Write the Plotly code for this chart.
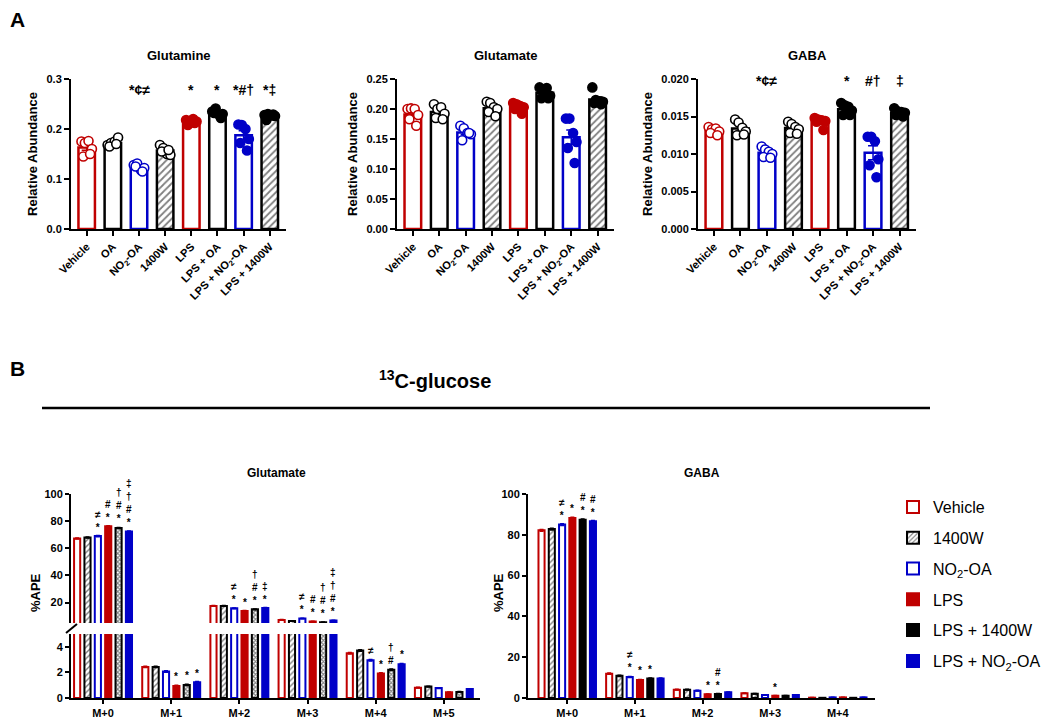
import numpy as np
import plotly.graph_objects as go

W, H = 1059, 718
# the page body adds an 8 px margin, so reference pixels are shifted by this much
OX, OY = 8, 8
FONT = "Liberation Sans, Arial, sans-serif"
RED = "#C00000"
BLUE = "#0000C8"
BLACK = "#000000"

# ---------------- panel A data (relative abundance, n = 6 per group) ----------------
CATS_A = ["Vehicle", "OA", "NO<sub>2</sub>-OA", "1400W", "LPS", "LPS + OA",
          "LPS + NO<sub>2</sub>-OA", "LPS + 1400W"]

glutamine_pts = [
    [0.175, 0.172, 0.176, 0.160, 0.145, 0.150],
    [0.168, 0.172, 0.175, 0.183, 0.165, 0.170],
    [0.128, 0.131, 0.118, 0.122, 0.125, 0.115],
    [0.168, 0.162, 0.150, 0.148, 0.155, 0.158],
    [0.218, 0.212, 0.220, 0.215, 0.208, 0.212],
    [0.235, 0.241, 0.228, 0.230, 0.232, 0.222],
    [0.209, 0.208, 0.200, 0.180, 0.172, 0.157],
    [0.228, 0.230, 0.227, 0.226, 0.218, 0.229],
]
glutamate_pts = [
    [0.200, 0.201, 0.200, 0.190, 0.183, 0.172],
    [0.208, 0.200, 0.203, 0.192, 0.185, 0.183],
    [0.172, 0.168, 0.160, 0.158, 0.148, 0.160],
    [0.212, 0.210, 0.203, 0.200, 0.195, 0.188],
    [0.210, 0.208, 0.205, 0.203, 0.200, 0.192],
    [0.236, 0.233, 0.235, 0.222, 0.218, 0.218],
    [0.184, 0.184, 0.160, 0.145, 0.135, 0.110],
    [0.236, 0.215, 0.213, 0.212, 0.210, 0.208],
]
gaba_pts = [
    [0.0136, 0.0133, 0.0134, 0.0130, 0.0128, 0.0125],
    [0.0146, 0.0142, 0.0135, 0.0130, 0.0125, 0.0126],
    [0.0110, 0.0106, 0.0103, 0.0100, 0.0096, 0.0095],
    [0.0143, 0.0140, 0.0136, 0.0133, 0.0128, 0.0127],
    [0.0148, 0.0146, 0.0145, 0.0144, 0.0143, 0.0132],
    [0.0168, 0.0165, 0.0163, 0.0158, 0.0152, 0.0152],
    [0.0123, 0.0123, 0.0117, 0.0093, 0.0085, 0.0069],
    [0.0161, 0.0157, 0.0156, 0.0155, 0.0152, 0.0150],
]
glutamine_marks = ["", "", "*¢≠", "", "*", "*", "*#†", "*‡"]
glutamate_marks = ["", "", "*¢≠", "", "", "*", "#†", "‡"]
gaba_marks = ["", "", "*¢≠", "", "", "*", "#†", "‡"]

# ---------------- panel B data (%APE from 13C-glucose) ----------------
ISO_GLU = ["M+0", "M+1", "M+2", "M+3", "M+4", "M+5"]
ISO_GABA = ["M+0", "M+1", "M+2", "M+3", "M+4"]
SERIES_B = ["Vehicle", "1400W", "NO<sub>2</sub>-OA", "LPS", "LPS + 1400W",
            "LPS + NO<sub>2</sub>-OA"]

glu_vehicle = [67.2, 2.43, 17.6, 7.3, 3.50, 0.81]
glu_1400w = [68.0, 2.43, 17.6, 6.5, 3.71, 0.89]
glu_no2oa = [69.0, 2.07, 15.8, 8.3, 2.95, 0.78]
glu_lps = [76.3, 0.94, 13.9, 6.1, 1.91, 0.44]
glu_lps_1400w = [75.0, 1.02, 15.1, 5.6, 2.20, 0.47]
glu_lps_no2oa = [72.4, 1.23, 16.1, 6.8, 2.64, 0.70]
glu_sem = [0.4, 0.05, 0.3, 0.2, 0.06, 0.03]

gaba_vehicle = [82.2, 11.9, 4.1, 2.3, 0.15]
gaba_1400w = [82.8, 10.9, 4.1, 2.1, 0.10]
gaba_no2oa = [85.0, 10.3, 3.6, 1.5, 0.30]
gaba_lps = [88.2, 8.8, 1.8, 1.1, 0.30]
gaba_lps_1400w = [87.4, 9.5, 2.0, 1.1, 0.10]
gaba_lps_no2oa = [86.6, 9.5, 2.8, 1.5, 0.30]
gaba_sem = [0.4, 0.3, 0.15, 0.1, 0.05]

GLU_B = [glu_vehicle, glu_1400w, glu_no2oa, glu_lps, glu_lps_1400w, glu_lps_no2oa]
GABA_B = [gaba_vehicle, gaba_1400w, gaba_no2oa, gaba_lps, gaba_lps_1400w, gaba_lps_no2oa]

# (isotopologue, series, stacked symbols)
GLU_MARKS = [
    (0, 2, "≠<br>*"), (0, 3, "#<br>*"), (0, 4, "†<br>#<br>*"), (0, 5, "‡<br>†<br>#<br>*"),
    (1, 3, "*"), (1, 4, "*"), (1, 5, "*"),
    (2, 2, "≠<br>*"), (2, 3, "*"), (2, 4, "†<br>#<br>*"), (2, 5, "‡<br>*"),
    (3, 2, "≠<br>*"), (3, 3, "#<br>*"), (3, 4, "†<br>#<br>*"), (3, 5, "‡<br>†<br>#<br>*"),
    (4, 2, "≠"), (4, 3, "*"), (4, 4, "†<br>#"), (4, 5, "*"),
]
GABA_MARKS = [
    (0, 2, "≠<br>*"), (0, 3, "*"), (0, 4, "#<br>*"), (0, 5, "#<br>*"),
    (1, 2, "≠<br>*"), (1, 3, "*"), (1, 4, "*"),
    (2, 3, "*"), (2, 4, "#<br>*"),
    (3, 3, "*"),
]

# ---------------- styles ----------------
A_LINE = [RED, BLACK, BLUE, BLACK, RED, BLACK, BLUE, BLACK]
A_HATCH = ["", "", "", "/", "", "", "", "/"]
A_FILLED = [False, False, False, False, True, True, True, True]
JITTER = np.array([-0.2, -0.07, 0.07, 0.2, -0.13, 0.13])

B_LINE = [RED, BLACK, BLUE, RED, BLACK, BLUE]
B_FILL = ["white", "white", "white", RED, BLACK, BLUE]
B_HATCH = ["", "/", "", "", "", ""]
B_STEP = 0.152
B_WIDTH = 0.09


def px(x):
    return (x - OX) / W


def py(y):
    return 1 - (y - OY) / H


def xdom(a, b):
    return [px(a), px(b)]


def ydom(top, bottom):
    return [py(bottom), py(top)]


def bold(size):
    return dict(family=FONT, size=size, color="black", weight="bold")


axis_common = dict(showline=True, linecolor="black", linewidth=2, ticks="outside",
                   ticklen=5, tickwidth=2, tickcolor="black", showgrid=False,
                   zeroline=False, tickfont=bold(11), automargin=False)

fig = go.Figure()
annotations = []
layout = {}

# ---------------- panel A ----------------
panels_a = [
    ("Glutamine", glutamine_pts, glutamine_marks, (71, 286), [0, 0.3], 0.1, ".1f", 0.279),
    ("Glutamate", glutamate_pts, glutamate_marks, (397, 614), [0, 0.25], 0.05, ".2f", 0.256),
    ("GABA", gaba_pts, gaba_marks, (698, 916), [0, 0.02], 0.005, ".3f", 0.0198),
]
for k, (title, pts, marks, (x0, x1), yr, dt, fmt, ystar) in enumerate(panels_a):
    xa = "x" if k == 0 else f"x{k + 1}"
    ya = "y" if k == 0 else f"y{k + 1}"
    for i in range(len(CATS_A)):
        vals = np.array(pts[i])
        mean = vals.mean()
        sem = vals.std(ddof=1) / np.sqrt(len(vals))
        fig.add_trace(go.Bar(
            x=[i], y=[mean], width=0.63, xaxis=xa, yaxis=ya, showlegend=False,
            marker=dict(color="white", line=dict(color=A_LINE[i], width=2.5),
                        pattern=dict(shape=A_HATCH[i], fgcolor="black", bgcolor="white",
                                     size=5, solidity=0.35)),
            error_y=dict(type="data", array=[sem], color=A_LINE[i], thickness=1.5, width=5),
        ))
        fig.add_trace(go.Scatter(
            x=i + JITTER, y=vals, mode="markers", xaxis=xa, yaxis=ya, showlegend=False,
            marker=dict(symbol="circle", size=9,
                        color=A_LINE[i] if A_FILLED[i] else "white",
                        line=dict(color=A_LINE[i], width=1.6)),
        ))
        if marks[i]:
            annotations.append(dict(x=i, y=ystar, xref=xa, yref=ya, text=marks[i],
                                    showarrow=False, font=bold(14), yanchor="middle"))
    key = "" if k == 0 else str(k + 1)
    layout["xaxis" + key] = dict(axis_common, domain=xdom(x0, x1), range=[-0.6, 7.62],
                                 anchor=ya, tickvals=list(range(8)), ticktext=CATS_A,
                                 tickangle=-45)
    layout["yaxis" + key] = dict(axis_common, domain=ydom(79, 229), range=yr, anchor=xa,
                                 dtick=dt, tickformat=fmt,
                                 title=dict(text="Relative Abundance", font=bold(13),
                                            standoff=6))
    annotations.append(dict(x=px((x0 + x1) / 2), y=py(55), xref="paper", yref="paper",
                            text=title, showarrow=False, font=bold(13),
                            xanchor="center", yanchor="middle"))

# ---------------- panel B: glutamate (broken axis) ----------------
for s in range(len(SERIES_B)):
    offset = (s - 2.5) * B_STEP - B_WIDTH / 2
    for xa, ya in (("x4", "y4"), ("x5", "y5")):
        pat = "x" if s == 4 else B_HATCH[s]
        fig.add_trace(go.Bar(
            x=list(range(len(ISO_GLU))), y=GLU_B[s], width=B_WIDTH, offset=offset,
            xaxis=xa, yaxis=ya, showlegend=False, name=SERIES_B[s],
            marker=dict(color=B_FILL[s] if s != 4 else "white",
                        line=dict(color=B_LINE[s], width=2),
                        pattern=dict(shape=pat, fgcolor="black", bgcolor="white",
                                     size=3 if s == 4 else 4,
                                     solidity=0.6 if s == 4 else 0.35)),
            error_y=dict(type="data", array=glu_sem, color=B_LINE[s], thickness=1.5, width=2),
        ))

for iso, s, txt in GLU_MARKS:
    v = GLU_B[s][iso] + glu_sem[iso]
    ya = "y4" if v > 5 else "y5"
    xa = "x4" if v > 5 else "x5"
    annotations.append(dict(x=iso + (s - 2.5) * B_STEP, y=v, xref=xa, yref=ya, text=txt,
                            showarrow=False, yanchor="bottom", yshift=1, font=bold(10)))

# ---------------- panel B: GABA ----------------
for s in range(len(SERIES_B)):
    offset = (s - 2.5) * B_STEP - B_WIDTH / 2
    fig.add_trace(go.Bar(
        x=list(range(len(ISO_GABA))), y=GABA_B[s], width=B_WIDTH, offset=offset,
        xaxis="x6", yaxis="y6", name=SERIES_B[s], legendgroup=f"g{s}", legendrank=s,
        marker=dict(color=B_FILL[s], line=dict(color=B_LINE[s], width=2),
                    pattern=dict(shape=B_HATCH[s], fgcolor="black", bgcolor="white",
                                 size=4, solidity=0.35)),
        error_y=dict(type="data", array=gaba_sem, color=B_LINE[s], thickness=1.5, width=2),
    ))

for iso, s, txt in GABA_MARKS:
    v = GABA_B[s][iso] + gaba_sem[iso]
    annotations.append(dict(x=iso + (s - 2.5) * B_STEP, y=v, xref="x6", yref="y6", text=txt,
                            showarrow=False, yanchor="bottom", yshift=1, font=bold(10)))

axis_b = dict(axis_common, ticklen=4)
layout["xaxis4"] = dict(domain=xdom(71, 480), range=[-0.47, 5.53], anchor="y4",
                        matches="x5", showline=False, showticklabels=False, ticks="",
                        showgrid=False, zeroline=False, automargin=False)
layout["yaxis4"] = dict(axis_b, domain=ydom(494, 623), range=[5, 100], anchor="x4",
                        tickvals=[20, 40, 60, 80, 100])
layout["xaxis5"] = dict(axis_b, domain=xdom(71, 480), range=[-0.47, 5.53], anchor="y5",
                        tickvals=list(range(len(ISO_GLU))), ticktext=ISO_GLU)
layout["yaxis5"] = dict(axis_b, domain=ydom(634, 698), range=[0, 5], anchor="x5",
                        tickvals=[0, 2, 4])
layout["xaxis6"] = dict(axis_b, domain=xdom(528, 875), range=[-0.58, 4.55], anchor="y6",
                        tickvals=list(range(len(ISO_GABA))), ticktext=ISO_GABA)
layout["yaxis6"] = dict(axis_b, domain=ydom(494, 698), range=[0, 100], anchor="x6",
                        dtick=20)

# titles and labels
labels = [
    dict(x=px(8), y=py(20), text="A", font=bold(21), xanchor="left"),
    dict(x=px(8), y=py(368), text="B", font=bold(21), xanchor="left"),
    dict(x=px(435), y=py(379), text="<sup>13</sup>C-glucose", font=bold(20)),
    dict(x=px(276), y=py(473), text="Glutamate", font=bold(12)),
    dict(x=px(702), y=py(473), text="GABA", font=bold(12)),
    dict(x=px(35), y=py(593), text="%APE", font=bold(13), textangle=-90),
    dict(x=px(498), y=py(593), text="%APE", font=bold(13), textangle=-90),
]
for a in labels:
    a.update(xref="paper", yref="paper", showarrow=False, yanchor="middle")
    a.setdefault("xanchor", "center")
annotations += labels

shapes = [
    dict(type="line", xref="paper", yref="paper", x0=px(42), x1=px(930),
         y0=py(408), y1=py(408), line=dict(color="black", width=2.5)),
    dict(type="line", xref="paper", yref="paper", x0=px(66), x1=px(77),
         y0=py(633), y1=py(624), line=dict(color="black", width=2)),
]

fig.update_layout(
    width=W, height=H, margin=dict(l=0, r=0, t=0, b=0, autoexpand=False),
    paper_bgcolor="white", plot_bgcolor="white",
    barmode="overlay", font=dict(family=FONT, color="black"),
    annotations=annotations, shapes=shapes,
    legend=dict(x=px(893), y=py(490), xanchor="left", yanchor="top",
                font=dict(family=FONT, size=16, color="black"),
                tracegroupgap=7, bgcolor="rgba(0,0,0,0)"),
    **layout,
)

fig.write_html("out.html")
